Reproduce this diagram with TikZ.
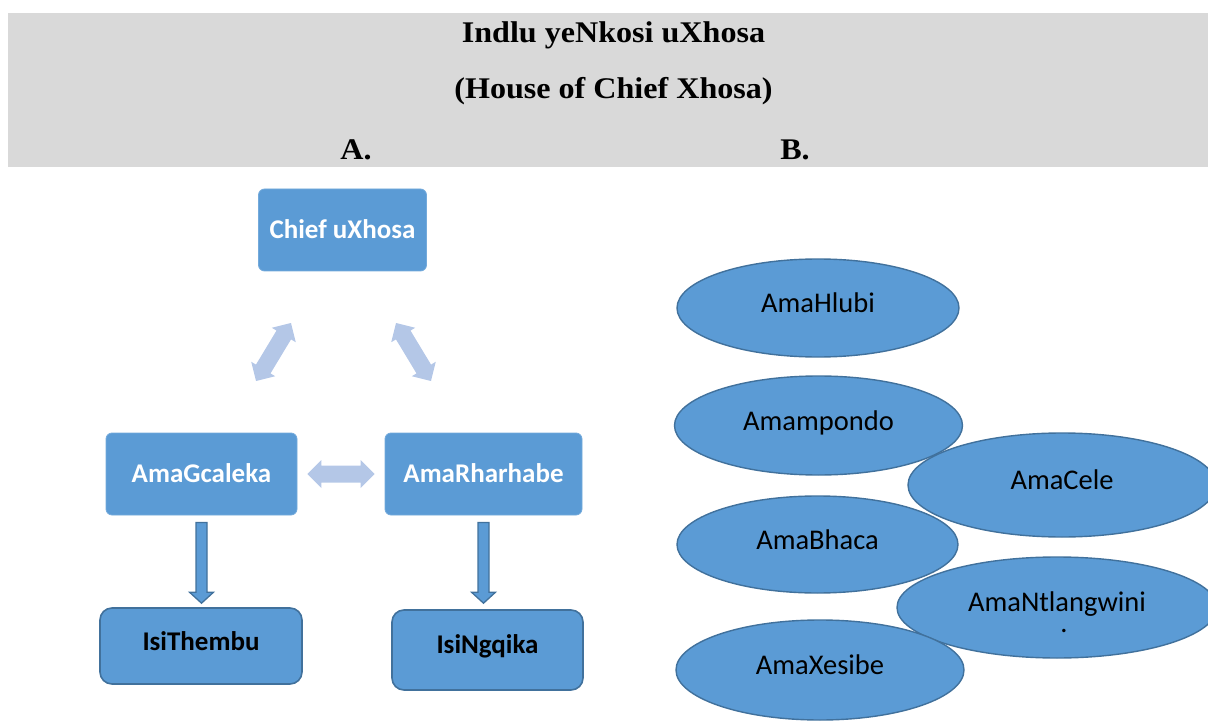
\documentclass[tikz,border=0pt]{standalone}
\usepackage{fontspec}
\setmainfont{Liberation Serif}
\newfontfamily\calfont{Carlito}
\usetikzlibrary{shapes.geometric,calc}
\definecolor{boxblue}{HTML}{5B9BD5}
\definecolor{edgeblue}{HTML}{41719C}
\definecolor{lightblue}{HTML}{B4C7E7}
\definecolor{bandgray}{HTML}{D9D9D9}
\newcommand\dblarr[2]{%
  \fill[lightblue] (#1)
    -- ($(#1)!14pt!(#2)!14pt!90:(#2)$)
    -- ($(#1)!14pt!(#2)!8.5pt!90:(#2)$)
    -- ($(#2)!14pt!(#1)!8.5pt!-90:(#1)$)
    -- ($(#2)!14pt!(#1)!14pt!-90:(#1)$)
    -- (#2)
    -- ($(#2)!14pt!(#1)!14pt!90:(#1)$)
    -- ($(#2)!14pt!(#1)!8.5pt!90:(#1)$)
    -- ($(#1)!14pt!(#2)!8.5pt!-90:(#2)$)
    -- ($(#1)!14pt!(#2)!14pt!-90:(#2)$)
    -- cycle;}
\newcommand\downarr[3]{%
  \draw[fill=boxblue, draw=edgeblue, line width=1.3pt, line join=miter]
    let \p1=($(#1.south)+(0,7)$), \p2=($(#2.north)+(0,-#3)$) in
    (\x1-5.5pt,\y1) -- (\x1+5.5pt,\y1) -- (\x1+5.5pt,\y2+11pt) -- (\x1+12pt,\y2+11pt)
    -- (\x1,\y2) -- (\x1-12pt,\y2+11pt) -- (\x1-5.5pt,\y2+11pt) -- cycle;}
\begin{document}
\begin{tikzpicture}[x=1pt,y=-1pt,
  titletext/.style={anchor=base, font=\bfseries\fontsize{30}{36}\selectfont},
  topbox/.style={rectangle, rounded corners=6pt, fill=boxblue, draw=boxblue!85!white,
    line width=0.8pt, text=white, inner sep=0pt, text height=17pt, text depth=0pt,
    font={\calfont\bfseries\fontsize{27}{32}\selectfont}},
  leafbox/.style={rectangle, rounded corners=12pt, fill=boxblue, draw=edgeblue,
    line width=1.6pt, text=black, inner sep=0pt, text height=17pt, text depth=0pt,
    font={\calfont\bfseries\fontsize{27}{32}\selectfont}},
  tribe/.style={ellipse, fill=boxblue, draw=edgeblue, line width=1.4pt, inner sep=0pt,
    text height=17pt, text depth=8pt, text=black,
    font={\calfont\fontsize{28.5}{28}\selectfont}}]
\useasboundingbox (0,0) rectangle (1208,722);
\clip (0,0) rectangle (1208,722);
% title band
\fill[bandgray] (8,13) rectangle (1208,167);
\node[titletext] (t1) at (613.5,42.7) {\scalebox{1.07}[1]{Indlu yeNkosi uXhosa}};
\node[titletext] (t2) at (613.5,99) {\scalebox{1.07}[1]{(House of Chief Xhosa)}};
\node[titletext] (la) at (356,160) {\scalebox{1.07}[1]{A.}};
\node[titletext] (lb) at (795,160) {\scalebox{1.07}[1]{B.}};
% part A
\node[topbox, minimum width=168pt, minimum height=82pt] (chief) at (342.5,230) {Chief uXhosa};
\node[topbox, minimum width=191pt, minimum height=82pt] (gc) at (201.5,474) {AmaGcaleka};
\node[topbox, minimum width=197pt, minimum height=82pt] (rh) at (483.5,474) {AmaRharhabe};
\node[leafbox, minimum width=202pt, minimum height=76pt] (th) at (201,646) {\raisebox{4pt}{IsiThembu}};
\node[leafbox, minimum width=191pt, minimum height=80pt] (ng) at (487.5,650) {\raisebox{5pt}{IsiNgqika}};
\coordinate (l1) at (256,381);
\coordinate (l2) at (291,323);
\coordinate (r1) at (396,323);
\coordinate (r2) at (431,381);
\coordinate (h1) at ($(gc.east)+(10,0)$);
\coordinate (h2) at ($(rh.west)+(-10,0)$);
\dblarr{l1}{l2}
\dblarr{r1}{r2}
\dblarr{h1}{h2}
\downarr{gc}{th}{4}
\downarr{rh}{ng}{6}
% part B
\node[tribe, minimum width=282pt, minimum height=98pt] (hl) at (818,308) {AmaHlubi};
\node[tribe, minimum width=288pt, minimum height=99pt] (mp) at (818.5,425.5) {Amampondo};
\node[tribe, minimum width=308pt, minimum height=104pt] (ce) at (1062,485) {AmaCele};
\node[tribe, minimum width=281pt, minimum height=97pt] (bh) at (817.5,544.5) {AmaBhaca};
\node[tribe, minimum width=320pt, minimum height=101pt, text depth=0pt] (nt) at (1057,607.5) {\raisebox{5pt}{AmaNtlangwini}};
\node[anchor=base, inner sep=0pt, text height=3pt, text depth=0pt, font={\calfont\fontsize{28.5}{28}\selectfont}] (ntdot) at (1064,632) {.};
\node[tribe, minimum width=288pt, minimum height=100pt] (xe) at (820,670) {AmaXesibe};
\end{tikzpicture}
\end{document}
